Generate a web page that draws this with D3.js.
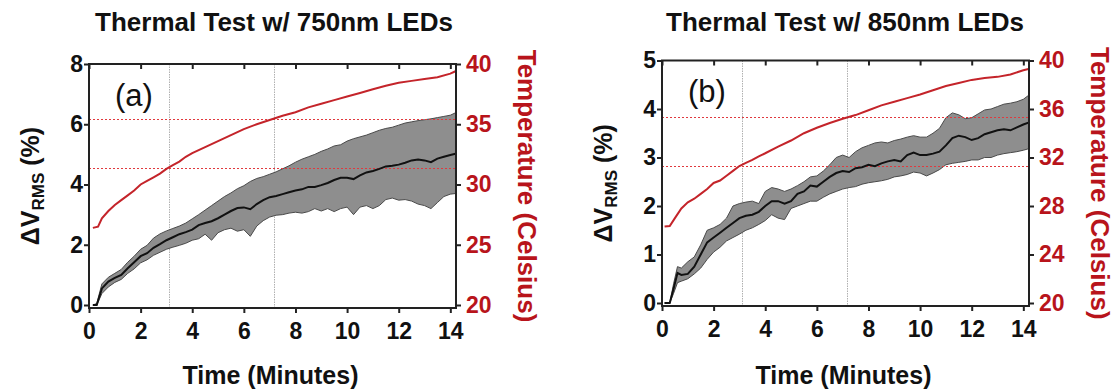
<!DOCTYPE html>
<html><head><meta charset="utf-8">
<script src="https://cdn.jsdelivr.net/npm/d3@7"></script>
<style>
body{margin:0;background:#fff;}
svg{display:block;}
text{font-family:"Liberation Sans",Arial,sans-serif;}
</style>
</head><body>
<svg id="c" width="1115" height="392"></svg>
<script>
// ---------- Panel (a): 750nm ----------
const timeA = [0.15,0.3,0.5,0.75,1,1.25,1.5,1.75,2,2.25,2.5,2.75,3,3.25,3.5,3.75,4,4.25,4.5,4.75,5,5.25,5.5,5.75,6,6.25,6.5,6.75,7,7.25,7.5,7.75,8,8.25,8.5,8.75,9,9.25,9.5,9.75,10,10.25,10.5,10.75,11,11.25,11.5,11.75,12,12.25,12.5,12.75,13,13.25,13.5,13.75,14,14.2];
const meanA  = [0,0,0.55,0.78,0.9,1.0,1.22,1.42,1.62,1.72,1.9,2.02,2.15,2.25,2.35,2.42,2.5,2.65,2.72,2.78,2.88,3.0,3.12,3.22,3.24,3.18,3.35,3.48,3.58,3.62,3.68,3.74,3.8,3.84,3.92,3.92,3.98,4.05,4.15,4.22,4.22,4.18,4.3,4.4,4.45,4.52,4.6,4.62,4.66,4.72,4.8,4.83,4.8,4.74,4.86,4.92,4.98,5.02];
const upperA = [0,0.05,0.7,0.92,1.05,1.18,1.42,1.62,1.85,1.98,2.22,2.36,2.46,2.54,2.62,2.72,2.86,3.0,3.15,3.3,3.45,3.6,3.72,3.86,3.96,4.1,4.2,4.26,4.34,4.42,4.52,4.62,4.74,4.84,4.92,5.0,5.1,5.18,5.28,5.32,5.44,5.52,5.58,5.64,5.72,5.8,5.86,5.9,5.97,6.04,6.08,6.12,6.15,6.18,6.22,6.26,6.3,6.38];
const lowerA = [0,0,0.38,0.6,0.75,0.85,1.05,1.2,1.4,1.5,1.65,1.75,1.85,1.92,1.98,2.05,2.15,2.2,2.35,2.15,2.4,2.5,2.55,2.45,2.5,2.28,2.62,2.8,2.92,2.98,3.0,3.05,3.08,3.05,3.1,3.2,3.12,3.2,3.1,3.2,3.25,3.0,3.25,3.3,3.2,3.3,3.5,3.55,3.48,3.5,3.45,3.35,3.3,3.2,3.4,3.6,3.68,3.7];
const tTimeA = [0.15,0.35,0.5,0.75,1,1.25,1.5,1.75,2,2.25,2.5,2.75,3,3.25,3.5,3.75,4,4.5,5,5.5,6,6.5,7,7.5,8,8.5,9,9.5,10,10.5,11,11.5,12,12.5,13,13.5,14,14.2];
const tempA  = [26.4,26.5,27.2,27.8,28.3,28.7,29.1,29.5,30.0,30.3,30.6,30.9,31.3,31.6,31.9,32.3,32.6,33.1,33.6,34.1,34.6,35.0,35.35,35.7,36.0,36.4,36.7,37.0,37.3,37.6,37.9,38.2,38.45,38.6,38.75,38.9,39.2,39.4];
const refTempA = [35.4, 31.4];
const refTimeA = [3.1, 7.15];
const yTicksA = [0,2,4,6,8];
const tempTicksA = [20,25,30,35,40];

// ---------- Panel (b): 850nm ----------
const timeB = [0.1,0.3,0.45,0.6,0.75,1,1.25,1.5,1.75,2,2.25,2.5,2.75,3,3.25,3.5,3.75,4,4.25,4.5,4.75,5,5.25,5.5,5.75,6,6.25,6.5,6.75,7,7.25,7.5,7.75,8,8.25,8.5,8.75,9,9.25,9.5,9.75,10,10.25,10.5,10.75,11,11.25,11.5,11.75,12,12.25,12.5,12.75,13,13.25,13.5,13.75,14,14.2];
const meanB  = [0,0,0.3,0.62,0.58,0.6,0.75,1.0,1.25,1.35,1.45,1.55,1.65,1.75,1.8,1.82,1.88,2.0,2.1,2.1,2.05,2.1,2.25,2.3,2.42,2.4,2.5,2.6,2.68,2.72,2.7,2.78,2.8,2.85,2.82,2.88,2.92,2.95,2.92,3.05,3.1,3.05,3.05,3.08,3.12,3.25,3.4,3.45,3.42,3.36,3.4,3.48,3.52,3.56,3.58,3.56,3.62,3.68,3.72];
const upperB = [0,0,0.4,0.75,0.72,0.85,0.95,1.2,1.5,1.55,1.62,1.75,2.0,2.05,2.08,2.1,2.05,2.3,2.38,2.35,2.3,2.35,2.42,2.5,2.6,2.62,2.72,2.85,3.0,3.05,3.0,3.12,3.2,3.25,3.3,3.32,3.3,3.35,3.38,3.42,3.45,3.42,3.42,3.5,3.6,3.82,3.92,3.88,3.8,3.82,3.9,3.98,4.0,4.05,4.1,4.12,4.15,4.2,4.28];
const lowerB = [0,0,0.2,0.42,0.45,0.5,0.6,0.72,0.9,1.05,1.15,1.28,1.35,1.42,1.5,1.55,1.62,1.7,1.82,1.75,1.72,1.95,2.0,2.05,2.1,2.1,2.18,2.25,2.3,2.35,2.38,2.4,2.45,2.48,2.5,2.52,2.55,2.6,2.62,2.65,2.7,2.68,2.62,2.68,2.75,2.85,2.88,2.9,2.92,2.95,2.95,3.0,3.0,3.05,3.08,3.1,3.12,3.15,3.18];
const tTimeB = [0.1,0.3,0.5,0.75,1,1.25,1.5,1.75,2,2.25,2.5,2.75,3,3.25,3.5,3.75,4,4.5,5,5.5,6,6.5,7,7.5,8,8.5,9,9.5,10,10.5,11,11.5,12,12.5,13,13.5,14,14.2];
const tempB  = [26.3,26.35,27.0,27.8,28.3,28.6,29.0,29.4,29.9,30.1,30.5,30.9,31.3,31.55,31.8,32.1,32.35,32.9,33.4,34.0,34.45,34.85,35.2,35.5,35.9,36.3,36.6,36.9,37.2,37.55,37.9,38.15,38.4,38.55,38.65,38.85,39.2,39.3];
const refTempB = [35.3, 31.3];
const refTimeB = [3.1, 7.15];
const yTicksB = [0,1,2,3,4,5];
const tempTicksB = [20,24,28,32,36,40];

// ---------- shared ----------
const xTicks = [0,2,4,6,8,10,12,14];
const xDomain = [0, 14.22];
const tempDomain = [20, 40];

const RED = "#b8141b";
const LINE_RED = "#c4242a";

const svg = d3.select("#c");

function panel(o){
  const g = svg.append("g");
  const x = d3.scaleLinear().domain(xDomain).range([o.left, o.right]);
  const y = d3.scaleLinear().domain([0, o.yMax]).range([o.zeroY, o.top]);
  const yt = d3.scaleLinear().domain(tempDomain).range([o.zeroY, o.top]);
  const snap = v => Math.round(v) + 0.5;

  // vertical gray reference lines
  g.selectAll(".vref").data(o.refTime).join("line")
    .attr("x1", d=>snap(x(d))).attr("x2", d=>snap(x(d)))
    .attr("y1", o.top).attr("y2", o.bottom)
    .attr("stroke", "#b0b0b0").attr("stroke-width", 1).attr("stroke-dasharray","1.5,1");

  // band
  const pts = o.time.map((t,i)=>({t, m:o.mean[i], u:o.upper[i], l:o.lower[i]}));
  g.append("path").datum(pts)
    .attr("d", d3.area().x(d=>x(d.t)).y0(d=>y(d.l)).y1(d=>y(d.u)))
    .attr("fill", "#8e8e8e").attr("stroke", "#4a4a4a").attr("stroke-width", 1);

  // horizontal dashed red lines
  g.selectAll(".href").data(o.refTemp).join("line")
    .attr("x1", o.left).attr("x2", o.right)
    .attr("y1", d=>snap(yt(d))).attr("y2", d=>snap(yt(d)))
    .attr("stroke", "#e0393e").attr("stroke-width", 1).attr("stroke-dasharray","2,2");

  // mean line
  g.append("path").datum(pts)
    .attr("d", d3.line().x(d=>x(d.t)).y(d=>y(d.m)))
    .attr("fill","none").attr("stroke","#111").attr("stroke-width",2);

  // temperature line
  const tp = o.tTime.map((t,i)=>({t, v:o.temp[i]}));
  g.append("path").datum(tp)
    .attr("d", d3.line().x(d=>x(d.t)).y(d=>yt(d.v)))
    .attr("fill","none").attr("stroke",LINE_RED).attr("stroke-width",2);

  // axes
  const fs = "23px";
  const ax = g.append("g").attr("transform",`translate(0,${o.bottom})`)
    .call(d3.axisBottom(x).tickValues(xTicks).tickSize(5).tickPadding(10).tickFormat(d3.format("d")));
  const ay = g.append("g").attr("transform",`translate(${o.left},0)`)
    .call(d3.axisLeft(y).tickValues(o.yTicks).tickSize(5).tickPadding(1).tickFormat(d3.format("d")));
  const ar = g.append("g").attr("transform",`translate(${o.right},0)`)
    .call(d3.axisRight(yt).tickValues(o.tempTicks).tickSize(5).tickPadding(5).tickFormat(d3.format("d")));
  const atop = g.append("g").attr("transform",`translate(0,${o.top})`)
    .call(d3.axisBottom(x).tickValues(xTicks).tickSize(5).tickFormat(""));
  [ax, ay, ar, atop].forEach(a=>{
    a.select(".domain").remove();
    a.selectAll(".tick line").attr("stroke","#222").attr("stroke-width",2);
    a.selectAll(".tick text").attr("font-size",fs).attr("font-weight","bold").attr("fill","#111")
      .attr("font-family","'Liberation Sans',Arial,sans-serif");
  });
  ar.selectAll(".tick text").attr("fill", RED);

  // frame
  g.append("rect").attr("x",o.left).attr("y",o.top)
    .attr("width",o.right-o.left).attr("height",o.bottom-o.top)
    .attr("fill","none").attr("stroke","#222").attr("stroke-width",2);

  // title
  g.append("text").attr("x",o.titleX).attr("y",31).attr("text-anchor","middle")
    .attr("font-size","26px").attr("font-weight","bold").attr("fill","#111").text(o.title);

  // panel label
  g.append("text").attr("x",o.left+26).attr("y",o.labelY)
    .attr("font-family","'Liberation Serif','Times New Roman',serif")
    .attr("font-size","31px").attr("fill","#111").text(o.label);

  // x axis title
  g.append("text").attr("x",(o.left+o.right)/2 - 2).attr("y",384).attr("text-anchor","middle")
    .attr("font-size","25px").attr("font-weight","bold").attr("fill","#111").text("Time (Minutes)");

  // left y axis title
  const yl = g.append("text")
    .attr("transform",`translate(${o.left-50},${(o.top+o.bottom)/2})rotate(-90)`)
    .attr("text-anchor","middle").attr("font-size","25px").attr("font-weight","bold").attr("fill","#111");
  yl.append("tspan").text("\u0394V");
  yl.append("tspan").attr("font-size","17px").attr("dy",5).text("RMS");
  yl.append("tspan").attr("dy",-5).text(" (%)");

  // right y axis title
  g.append("text")
    .attr("transform",`translate(${o.right+62},${(o.top+o.bottom)/2})rotate(90)`)
    .attr("text-anchor","middle").attr("font-size","26px").attr("font-weight","bold").attr("fill",RED)
    .text("Temperature (Celsius)");
}

panel({left:89, right:456, top:64, zeroY:305, bottom:308, yMax:8, yTicks:yTicksA, tempTicks:tempTicksA,
  time:timeA, mean:meanA, upper:upperA, lower:lowerA, tTime:tTimeA, temp:tempA,
  refTemp:refTempA, refTime:refTimeA, title:"Thermal Test w/ 750nm LEDs", titleX:274, label:"(a)", labelY:106});
panel({left:662, right:1029, top:60.5, zeroY:303, bottom:306, yMax:5, yTicks:yTicksB, tempTicks:tempTicksB,
  time:timeB, mean:meanB, upper:upperB, lower:lowerB, tTime:tTimeB, temp:tempB,
  refTemp:refTempB, refTime:refTimeB, title:"Thermal Test w/ 850nm LEDs", titleX:845, label:"(b)", labelY:102});
</script>
</body></html>
